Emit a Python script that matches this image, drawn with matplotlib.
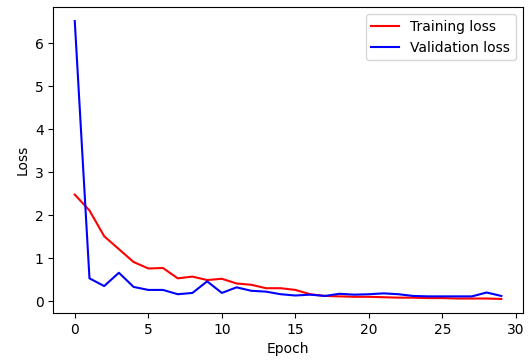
import matplotlib
matplotlib.use('Agg')
import matplotlib.pyplot as plt

# loss values
epochs = list(range(30))
train_loss = [2.48, 2.11, 1.51, 1.21, 0.91, 0.76, 0.77, 0.53, 0.57, 0.49,
              0.52, 0.41, 0.38, 0.30, 0.30, 0.26, 0.16, 0.12, 0.11, 0.10,
              0.10, 0.09, 0.08, 0.08, 0.07, 0.07, 0.06, 0.06, 0.06, 0.05]
val_loss = [6.52, 0.53, 0.35, 0.66, 0.33, 0.26, 0.26, 0.16, 0.19, 0.46,
            0.19, 0.32, 0.24, 0.22, 0.16, 0.13, 0.15, 0.12, 0.17, 0.15,
            0.16, 0.18, 0.16, 0.12, 0.11, 0.11, 0.11, 0.11, 0.20, 0.12]

fig, ax = plt.subplots(figsize=(5.29, 3.6), dpi=100)
fig.subplots_adjust(left=0.101, right=0.988, bottom=0.131, top=0.98)

ax.plot(epochs, train_loss, 'r', label='Training loss')
ax.plot(epochs, val_loss, 'b', label='Validation loss')

ax.set_xlabel('Epoch')
ax.set_ylabel('Loss')
ax.legend()

fig.savefig('out.png', dpi=100)
